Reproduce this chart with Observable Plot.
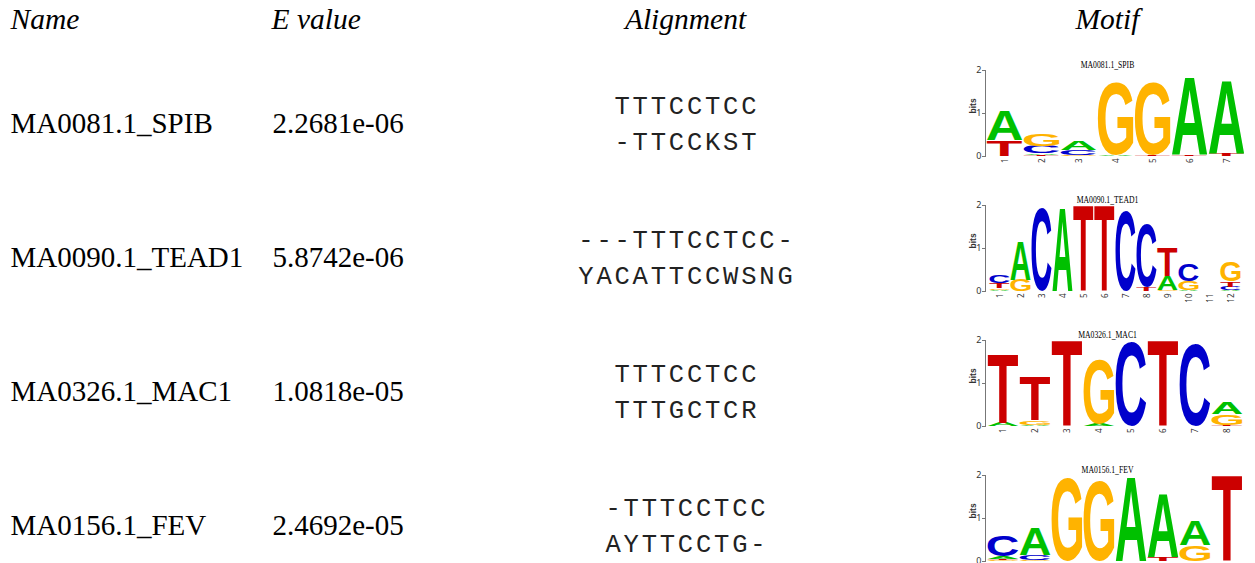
<!DOCTYPE html>
<html><head><meta charset="utf-8">
<script src="https://cdn.jsdelivr.net/npm/d3@7"></script>
<script src="https://cdn.jsdelivr.net/npm/@observablehq/plot@0.6"></script>
<style>
body{margin:0;background:#fff}
#wrap{position:relative;width:1255px;height:563px;overflow:hidden;background:#fff}
#wrap svg{position:absolute}
g[aria-description="align"]{letter-spacing:2.8px}
</style></head><body><div id="wrap"></div>
<script>
// ---- table data ----
const headers = ["Name", "E value", "Alignment", "Motif"];
const names = ["MA0081.1_SPIB", "MA0090.1_TEAD1", "MA0326.1_MAC1", "MA0156.1_FEV"];
const evalues = ["2.2681e-06", "5.8742e-06", "1.0818e-05", "2.4692e-05"];
const queryAlign = ["TTTCCTCC", "---TTTCCTCC-", "TTTCCTCC", "-TTTCCTCC"];
const targetAlign = ["-TTCCKST", "YACATTCCWSNG", "TTTGCTCR", "AYTTCCTG-"];

// ---- motif logos: information (bits) per letter, per position ----
const bases = ["A", "C", "G", "T"];
const baseColors = ["#00C000", "#0000CC", "#FFB300", "#CC0000"];
const spib = [
  {T: 0.37, A: 0.68},
  {T: 0.03, A: 0.03, C: 0.18, G: 0.27},
  {G: 0.03, C: 0.12, A: 0.22},
  {A: 0.02, G: 1.69},
  {T: 0.02, G: 1.67},
  {T: 0.03, A: 1.81},
  {T: 0.06, A: 1.68}
];
const tead1 = [
  {A: 0.02, G: 0.04, T: 0.13, C: 0.17},
  {G: 0.26, A: 0.89},
  {C: 1.94},
  {A: 1.92},
  {T: 2.0},
  {T: 2.0},
  {C: 1.88},
  {T: 0.1, C: 1.47},
  {G: 0.02, A: 0.33, T: 0.67},
  {A: 0.02, G: 0.2, C: 0.4},
  {},
  {A: 0.02, C: 0.08, T: 0.13, G: 0.47}
];
const mac1 = [
  {A: 0.08, T: 1.59},
  {A: 0.03, G: 0.1, T: 1.02},
  {T: 2.0},
  {A: 0.06, G: 1.51},
  {C: 1.96},
  {T: 2.0},
  {C: 1.91},
  {T: 0.03, G: 0.24, A: 0.26}
];
const fev = [
  {G: 0.02, T: 0.03, A: 0.07, C: 0.5},
  {G: 0.03, C: 0.12, A: 0.62},
  {G: 1.92},
  {G: 1.87},
  {A: 1.95},
  {T: 0.1, A: 1.47},
  {G: 0.37, A: 0.57},
  {T: 2.0}
];
const motifs = [spib, tead1, mac1, fev];

const table = names.map((n, i) => ({name: n, evalue: evalues[i], query: queryAlign[i], target: targetAlign[i]}));

const wrap = document.getElementById("wrap");
const serif = "Liberation Serif";

const main = Plot.plot({
  width: 1255, height: 563, margin: 0,
  style: {background: "transparent"},
  y: {type: "point", domain: names, range: [122, 525], padding: 0, axis: null},
  marks: [
    Plot.text(headers.slice(0, 1), {frameAnchor: "top-left", text: d => d, dx: 10, dy: 8, lineAnchor: "top", textAnchor: "start", fontFamily: serif, fontStyle: "italic", fontSize: 29.5}),
    Plot.text(headers.slice(1, 2), {frameAnchor: "top-left", text: d => d, dx: 271, dy: 8, lineAnchor: "top", textAnchor: "start", fontFamily: serif, fontStyle: "italic", fontSize: 29.5}),
    Plot.text(headers.slice(2, 3), {frameAnchor: "top-left", text: d => d, dx: 685, dy: 8, lineAnchor: "top", textAnchor: "middle", fontFamily: serif, fontStyle: "italic", fontSize: 29.5}),
    Plot.text(headers.slice(3, 4), {frameAnchor: "top-left", text: d => d, dx: 1107, dy: 8, lineAnchor: "top", textAnchor: "middle", fontFamily: serif, fontStyle: "italic", fontSize: 29.5}),
    Plot.text(table, {frameAnchor: "left", y: "name", text: "name", dx: 10, textAnchor: "start", fontFamily: serif, fontSize: 29, fill: "#000"}),
    Plot.text(table, {frameAnchor: "left", y: "name", text: "evalue", dx: 272, textAnchor: "start", fontFamily: serif, fontSize: 29, fill: "#000"}),
    Plot.text(table, {frameAnchor: "left", y: "name", text: "query", dx: 686.4, dy: -18, textAnchor: "middle", fontFamily: "Liberation Mono", fontSize: 25.5, fill: "#222", ariaDescription: "align"}),
    Plot.text(table, {frameAnchor: "left", y: "name", text: "target", dx: 686.4, dy: 18, textAnchor: "middle", fontFamily: "Liberation Mono", fontSize: 25.5, fill: "#222", ariaDescription: "align"})
  ]
});
main.style.left = "0px"; main.style.top = "0px";
wrap.appendChild(main);

// ink metrics of the logo font
const ctx = document.createElement("canvas").getContext("2d");
ctx.font = "bold 100px 'Liberation Sans'";
const ink = {};
bases.forEach(b => {
  const m = ctx.measureText(b);
  ink[b] = {L: m.actualBoundingBoxLeft, R: m.actualBoundingBoxRight, A: m.actualBoundingBoxAscent, D: m.actualBoundingBoxDescent};
});

function stackRows(cols) {
  const rows = [];
  cols.forEach((c, i) => {
    let y = 0;
    Object.entries(c).filter(([, v]) => v > 0).sort((a, b) => a[1] - b[1]).forEach(([letter, v]) => {
      rows.push({pos: i + 1, letter, y1: y, y2: y + v});
      y += v;
    });
  });
  return rows;
}

function drawLogo(title, cols, top) {
  const rows = stackRows(cols);
  const plot = Plot.plot({
    width: 295, height: 118, marginLeft: 30, marginRight: 5, marginTop: 20, marginBottom: 12,
    style: {background: "transparent", overflow: "visible"},
    x: {type: "band", domain: d3.range(1, cols.length + 1), padding: 0, axis: null},
    y: {domain: [0, 2], axis: null},
    color: {domain: bases, range: baseColors},
    marks: [
      Plot.text(rows, {x: "pos", y: "y1", text: "letter", fill: "letter", fontFamily: "Liberation Sans", fontWeight: "bold", fontSize: 100, ariaDescription: "letters"}),
      Plot.frame({anchor: "left", stroke: "#777"}),
      Plot.axisY({ticks: [0, 1, 2], tickFormat: "d", tickSize: 3, tickPadding: 1, fontSize: 9, stroke: "#777", fill: "#333", label: null}),
      Plot.axisX({tickRotate: -90, tickSize: 0, tickPadding: 2, fontSize: 8, fill: "#333", label: null}),
      Plot.text(["bits"], {frameAnchor: "left", text: d => d, rotate: -90, dx: -12, fontSize: 8.5, fontWeight: "bold", fill: "#333", fontFamily: "Liberation Sans"}),
      Plot.text([title], {frameAnchor: "top", text: d => d, dx: -8, dy: -10, fontFamily: serif, fontSize: 10, ariaDescription: "title"})
    ]
  });
  const xs = plot.scale("x"), ys = plot.scale("y");
  const bw = xs.bandwidth;
  const g = plot.querySelector('g[aria-description="letters"]');
  g.removeAttribute("transform");
  g.querySelectorAll("text").forEach((el, i) => {
    const r = rows[i];
    const m = ink[r.letter];
    const x0 = xs.apply(r.pos) + bw * 0.02, w = bw * 0.96;
    const yTop = ys.apply(r.y2), yBot = ys.apply(r.y1);
    const sx = w / (m.L + m.R), sy = (yBot - yTop) / (m.A + m.D);
    const tx = x0 + m.L * sx, ty = yTop + m.A * sy;
    el.setAttribute("x", 0); el.setAttribute("y", 0);
    el.removeAttribute("dy"); el.removeAttribute("dx");
    el.setAttribute("text-anchor", "start");
    el.setAttribute("font-size", 100);
    el.setAttribute("transform", `translate(${tx},${ty}) scale(${sx},${sy})`);
  });
  // condense the small title horizontally, as in the original logo
  const tg = plot.querySelector('g[aria-description="title"]');
  tg.querySelectorAll("text").forEach(el => {
    const t = el.getAttribute("transform");
    if (t) el.setAttribute("transform", t + " scale(0.77,1)");
    else {
      const x = +el.getAttribute("x") || 0, y = el.getAttribute("y");
      el.setAttribute("x", 0);
      el.setAttribute("transform", `translate(${x},0) scale(0.77,1)`);
    }
  });
  plot.style.left = "955px";
  plot.style.top = top + "px";
  wrap.appendChild(plot);
}

motifs.forEach((cols, i) => drawLogo(names[i], cols, 50 + 135 * i));
</script></body></html>
